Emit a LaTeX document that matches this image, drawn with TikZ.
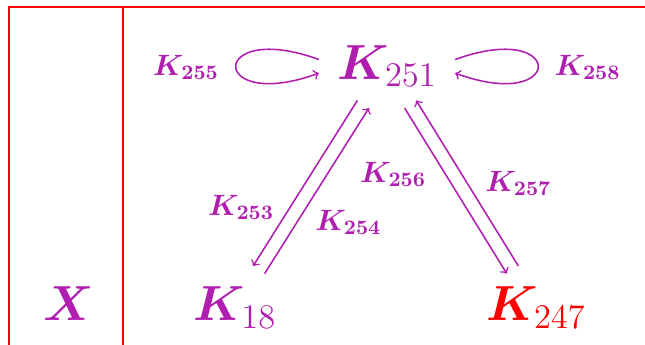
\RequirePackage{fix-cm}
\documentclass[tikz,border=0pt]{standalone}
\usepackage{amsmath,amssymb,bm}
\usepackage{tikz}
\usetikzlibrary{positioning}
\definecolor{rxnpurple}{HTML}{B01EB0}
\definecolor{rxnred}{HTML}{FF0000}
\tikzset{
    species/.style={font=\fontsize{22.2}{27}\selectfont,text=rxnpurple},
    rate/.style={font=\fontsize{13.2}{16}\selectfont,text=rxnpurple},
    every edge/.style={draw=rxnpurple,->,line width=0.7pt,shorten <=5pt,shorten >=5pt},
    frame/.style={draw=rxnred,line width=0.6pt},
}

\begin{document}
\begin{tikzpicture}[x=1pt,y=1pt]
    \useasboundingbox (0,0) rectangle (290.25,-155.25);
    \draw[frame] (4.05,-155.25) |- (290.25,-3.15);
    \draw[frame] (55.35,-3.15) -- (55.35,-155.25);

    \node[species,anchor=base] (k251) at (174.15,-35.8) {$\bm{K}_{251}$};
    \node[species,below left=108.65pt and 68.4pt of k251.base,anchor=base] (k18) {$\bm{K}_{18}$};
    \node[species,text=rxnred,below right=108.65pt and 67.05pt of k251.base,anchor=base] (k247) {$\bm{K}_{247}$};
    \node[species,left=74.95pt of k18.base,anchor=base] (x) {$\bm{X}$};
    \node[rate,above left=2pt and 90.45pt of k251.base,anchor=base] (k255) {$\bm{K}_{\mathbf{255}}$};
    \node[rate,above right=2pt and 90.25pt of k251.base,anchor=base] (k258) {$\bm{K}_{\mathbf{258}}$};

    \path
    (k251.177) edge[out=160,in=200,min distance=58pt] (k251.183)
    (k251.3) edge[out=20,in=-20,min distance=58pt] (k251.-3)
    (k251) edge[transform canvas={shift={(-2.6pt,1.7pt)}}] node[rate,pos=0.63,left=3.5pt] {$\bm{K}_{\mathbf{253}}$} (k18)
    (k18) edge[transform canvas={shift={(2.6pt,-1.7pt)}}] node[rate,pos=0.33,right=4.6pt] {$\bm{K}_{\mathbf{254}}$} (k251)
    (k251) edge[transform canvas={shift={(-2.6pt,-1.7pt)}}] node[rate,pos=0.41,left=5pt] {$\bm{K}_{\mathbf{256}}$} (k247)
    (k247) edge[transform canvas={shift={(2.6pt,1.7pt)}}] node[rate,pos=0.5,right=4.5pt] {$\bm{K}_{\mathbf{257}}$} (k251);
\end{tikzpicture}
\end{document}
